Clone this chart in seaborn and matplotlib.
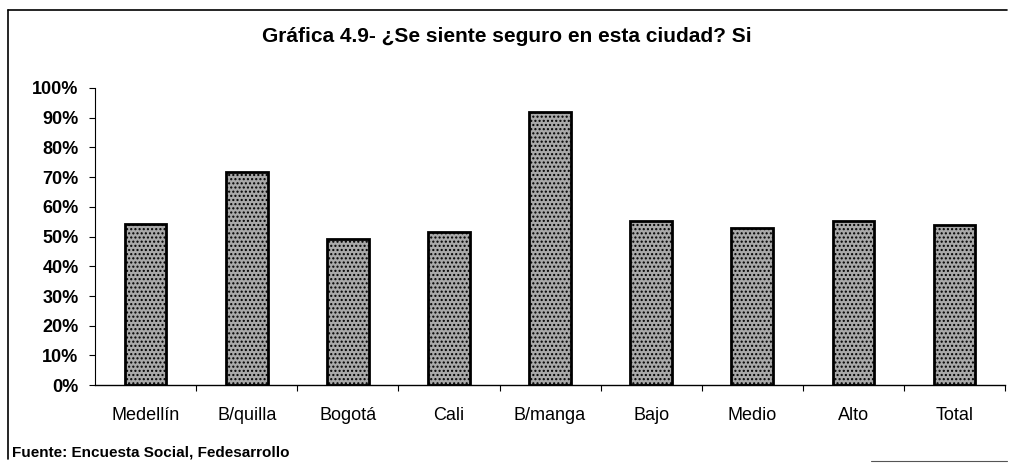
import matplotlib
matplotlib.use("Agg")
import matplotlib.pyplot as plt
import seaborn as sns
import numpy as np
from matplotlib.ticker import PercentFormatter, FixedLocator
from matplotlib.lines import Line2D

# Data
categories = ["Medellín", "B/quilla", "Bogotá", "Cali", "B/manga", "Bajo", "Medio", "Alto", "Total"]
si_share = [0.542, 0.717, 0.492, 0.515, 0.919, 0.552, 0.529, 0.552, 0.539]
y_ticks = [0, 0.1, 0.2, 0.3, 0.4, 0.5, 0.6, 0.7, 0.8, 0.9, 1.0]

sns.set_style("white")
plt.rcParams["font.family"] = ["Liberation Sans", "DejaVu Sans"]
plt.rcParams["text.color"] = "black"
plt.rcParams["xtick.color"] = "black"
plt.rcParams["ytick.color"] = "black"
plt.rcParams["hatch.color"] = "#6e6e6e"

fig = plt.figure(figsize=(10.13, 4.68), dpi=100)
ax = fig.add_axes([0.094, 0.177, 0.898, 0.635])

sns.barplot(x=categories, y=si_share, ax=ax, color="#a9a9a9", width=0.41,
            edgecolor="black", linewidth=2, saturation=1)
for bar in ax.patches:
    bar.set_hatch("....")
    bar.set_edgecolor("black")

ax.set_ylim(0, 1)
ax.set_xlim(-0.5, len(categories) - 0.5)
ax.yaxis.set_major_locator(FixedLocator(y_ticks))
ax.yaxis.set_major_formatter(PercentFormatter(1.0, decimals=0))
ax.tick_params(axis="y", labelsize=13, left=True, length=4, width=0.8, pad=8)
ax.tick_params(axis="x", labelsize=13, bottom=False, pad=12)
ax.set_xticks(np.arange(len(categories)) + 0.5, minor=True)
ax.tick_params(axis="x", which="minor", bottom=True, length=4, width=0.8)
for lab in ax.get_yticklabels():
    lab.set_fontweight("bold")

for side in ["top", "right"]:
    ax.spines[side].set_visible(False)
ax.spines["left"].set_linewidth(0.8)
ax.spines["bottom"].set_linewidth(1.0)
ax.spines["left"].set_color("black")
ax.spines["bottom"].set_color("black")

fig.text(0.5, 0.922, "Gráfica 4.9- ¿Se siente seguro en esta ciudad? Si",
         ha="center", va="center", fontsize=15, fontweight="bold")
fig.text(0.012, 0.034, "Fuente: Encuesta Social, Fedesarrollo",
         ha="left", va="center", fontsize=11, fontweight="bold")

# outer frame of the scanned chart (left and top edges, short piece bottom right)
fig.lines.append(Line2D([0.008, 0.008], [0.02, 0.978], transform=fig.transFigure,
                        color="black", linewidth=1.2))
fig.lines.append(Line2D([0.008, 0.994], [0.978, 0.978], transform=fig.transFigure,
                        color="black", linewidth=1.2))
fig.lines.append(Line2D([0.86, 0.994], [0.016, 0.016], transform=fig.transFigure,
                        color="#555555", linewidth=0.8))

fig.savefig("out.png", dpi=100)
